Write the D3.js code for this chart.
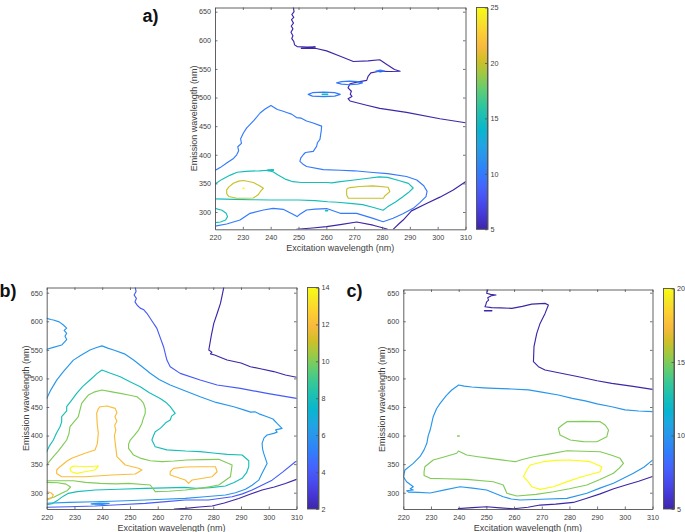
<!DOCTYPE html>
<html><head><meta charset="utf-8">
<script src="https://cdn.jsdelivr.net/npm/d3@7"></script>
<style>
body{margin:0;background:#fff}
svg{display:block}
text{font-family:"Liberation Sans",Arial,Helvetica,sans-serif}
</style>
</head><body>
<svg id="chart" width="685" height="532"></svg>
<script>
// ---------- axes data ----------
const xTicks = [220,230,240,250,260,270,280,290,300,310];
const yTicks = [300,350,400,450,500,550,600,650];
const exLimits = [220,310];
const emLimitsA = [269.8,657.3];
const emLimitsB = [271.5,659.1];
const emLimitsC = [271.5,655.6];
const cbDomA = [5,25], cbTicksA = [5,10,15,20,25];
const cbDomB = [2,14], cbTicksB = [2,4,6,8,10,12,14];
const cbDomC = [5,20], cbTicksC = [5,10,15,20];
const xLabel = "Excitation wavelength (nm)";
const yLabel = "Emission wavelength (nm)";

// parula colormap stops (MATLAB)
const parulaIdx = [0,4,8,12,16,20,24,28,32,36,40,44,48,52,56,60,63];
const parulaRGB = [
 [0.2422,0.1504,0.6603],[0.2706,0.2147,0.8364],[0.2813,0.3006,0.9414],[0.2699,0.3892,0.9906],
 [0.1963,0.4847,0.9892],[0.1687,0.5703,0.9359],[0.1248,0.6459,0.8883],[0.0297,0.7082,0.8163],
 [0.0964,0.7500,0.7120],[0.2161,0.7843,0.5923],[0.3909,0.8029,0.4354],[0.6174,0.7876,0.2612],
 [0.8203,0.7498,0.1535],[0.9728,0.7298,0.2394],[0.9892,0.8136,0.1885],[0.9597,0.9135,0.1423],
 [0.9769,0.9839,0.0805]];

// ---------- panel a contours [excitation, emission] ----------
const a5_1 = [[248.1,659],[248.4,650],[247.6,645],[248.3,640],[247.5,636],[248.2,630],[247.4,625],[248.0,620],[247.3,614],[248.0,608],[247.6,603],[248.3,598],[248.6,592],[249.5,589],[253,588],[256,588.5],[251,586],[256,586],[260.1,581.5],[265,572],[269.7,563],[275,564],[279.2,566],[282,557],[284.5,549],[286.5,546],[283,545.5],[279,546],[276,543],[275,537],[274.5,530],[271,527],[268.5,524],[267.8,517],[269,511],[268.6,506],[269.2,502],[267.8,498],[268.5,494],[274.5,486.5],[279.2,481],[288.8,474],[300.8,463],[310,456]];
const a5_2 = [[284,269.8],[286,279],[287.6,286],[290.6,302],[296,315],[300.8,326],[305.6,338.5],[310,353]];
const a5_3 = [[249.3,269.8],[255,272],[260.1,274.5],[265,278],[270.9,282.5],[276.8,277],[280.5,272],[282,269.8]];
const a10_1 = [[220,372.6],[222,378],[224.2,385.5],[226.5,393],[227.8,400],[228.5,407],[228.2,414],[229.5,420],[229.2,428],[230.2,438],[231.4,447],[234,460],[236.2,473],[238,480],[240.1,486],[242.4,479],[244.5,476],[246,473.5],[247.5,471],[249.3,465],[251,464],[252.9,459],[255,456],[258.3,450],[258.2,443],[257.7,427],[256.8,421],[256.5,414.7],[255.3,406],[252.5,404],[251.7,400],[250.8,394],[250.5,388.5],[251.5,384],[252.9,379.6],[258.9,374],[265,373],[270,372],[276.8,369],[282,367],[288.8,362],[292.5,356],[295,346],[296.2,336],[295.8,327],[293.5,316],[291.2,306.4],[287.5,297],[284,289],[280.4,283],[276.8,288.9],[270.9,297.7],[265,297.7],[260.1,306],[256,305],[252.9,303.5],[250.5,296],[249.5,292],[248,296],[244.5,304.7],[240.9,306.4],[237.4,303.5],[232.6,297.7],[229,286],[224.2,279],[220,275.4]];
const a10_e1 = [[253.5,505.5],[255,508.5],[259,509.5],[263,508.5],[265,505.5],[263,502.5],[259,501.5],[255,502.5],[253.5,505.5]];
const a10_e2 = [[263.7,525.6],[265.5,527.8],[268.4,528.8],[271.3,527.8],[273,525.6],[271.3,523.4],[268.4,522.4],[265.5,523.4],[263.7,525.6]];
const a10_e3 = [[277.8,546.3],[279.4,547.8],[281,546.3],[279.4,544.8],[277.8,546.3]];
const a15_1 = [[220,349],[222.5,357],[225.5,364.5],[228,369.5],[231,371],[236,372],[239,373],[241,370],[242.5,365],[245.5,357],[248,353],[251,351.5],[256,351.5],[260,351.5],[262,351],[265,353],[270,356],[275,359],[279,361.5],[282,360.5],[286,355],[289.5,350],[291.2,342],[289.5,334],[287.6,327],[285,318],[282,309],[280.4,303],[277,308],[273,313],[268.5,315],[264,317],[260.5,318],[256,320],[250,321],[245,321],[240,321],[233,321.5],[227,322],[220,323]];
const a15_2 = [[220,306.5],[222.5,303],[224,298],[224.5,292],[223.8,286],[222,282.5],[220,281.5]];
const a15_d1 = [[259.7,302],[260.5,302],[260.5,302.8],[259.7,302.8],[259.7,302]];
const a15_d2 = [[258.5,505],[260.5,505],[260.5,506],[258.5,506],[258.5,505]];
const a15_d3 = [[239,372],[241,372.8],[241,374],[239,373.5],[239,372]];
const a20_1 = [[224.2,338.6],[225,344],[226.6,350.3],[228.5,354],[230.2,355],[233.8,351.5],[236,346],[237.4,341.6],[236.2,335],[235.5,330],[233.8,324.5],[230,324],[227.8,324],[225,327],[224.2,332],[224.2,338.6]];
const a20_2 = [[267.3,338.6],[267.5,341],[268.5,342.7],[272,344.5],[276.8,345.6],[282.2,343.3],[282.8,335.7],[281,328],[280.5,324],[276.8,324],[272,324],[267.9,324],[267.3,329.9],[267.3,335],[267.3,338.6]];
const a25_d = [[230,341.3],[230.5,341.3],[230.5,342],[230,342],[230,341.3]];

// ---------- panel b contours ----------
const b2_1 = [[283.8,659.5],[283.2,645],[282.6,631.3],[281.5,615],[280.2,596.3],[279.3,575],[278.4,549.7],[279.5,546],[279,543],[280.5,541],[282.5,537],[285,532.2],[290,527],[293.4,520.5],[297,517],[301.8,512],[306,506],[310,502]];
const b2_2 = [[266,271.5],[270,272.7],[275,275],[279.6,276.7],[284,282],[289.2,290],[293,297],[297.6,304.7],[302,310],[306,316],[310,323.3]];
const b4_1 = [[251.9,659.5],[252.2,652],[251.5,646],[252.3,640],[251.8,634],[252.6,628],[253.7,623],[255,620],[256.1,614],[258,600],[259.7,587.6],[261,570],[262.1,555.5],[263.3,532.2],[264.5,520.5],[268.1,508.8],[275.3,497.2],[281.4,488.4],[289.8,482.6],[299.4,473.8],[310,465.1]];
const b4_2 = [[220,274.5],[228,275.5],[237.4,276.7],[246,279],[255.5,281.4],[262,284],[269.9,287.2],[278.3,287.2],[286.8,293],[290.5,298],[294,304.7],[297.5,313],[301.2,322],[305,336],[309.6,354.3],[310,355]];
const b6_1 = [[220,605],[221.5,603],[222.4,602.2],[224.5,599],[226,593.4],[227.2,588],[226.3,584],[227.2,579],[226.6,574],[227.2,568],[225.4,558.4],[222.4,554.3],[220,551]];
const b6_2 = [[220,465],[221.5,480],[223.6,497],[226,512],[229.6,532],[232.5,541],[235.6,549.7],[238,554],[239.9,557],[242,553],[244.1,549.7],[248,543],[251.3,532.2],[254.5,520],[257.3,509],[260.5,498],[264.5,488.4],[270,478],[275.3,468],[281,458],[287.4,450.5],[291,445],[293.5,441],[295,441.5],[296.5,438],[299.4,433],[301.5,429],[303,421.3],[304.8,412.6],[302.5,410],[303,406],[301.8,403.8],[299.4,401],[298.3,396],[297.6,386.3],[297.8,376],[298.2,368.8],[299.4,351.3],[298.8,345.5],[297.5,333],[296.4,322],[294,313],[291.6,306],[288,300],[284.4,296],[277,293],[269.9,290],[262,288.5],[255.5,287.2],[246,285.5],[237.4,284.2],[228,283],[220,281.5]];
const b6_3 = [[236,280.5],[239,281.8],[242.5,281.3],[240,279.6],[236.5,279.8],[236,280.5]];
const b8_1 = [[220,371.7],[221,382],[222.4,392.2],[223.5,404],[224.8,415.5],[225.4,424],[225.4,433],[227.2,443],[227.2,450.5],[229,462],[230.8,473.8],[233,486],[235.6,497.2],[238,508],[239.9,514.7],[243,509],[246.5,503],[250,494],[253.7,485.5],[257,475],[260.9,465],[263,458],[264.5,450.5],[266.3,439],[265,434],[264.5,427.2],[263,423],[262.1,418.4],[261,413],[259.1,406.7],[258.5,400],[257.9,392.2],[259.1,380.5],[263.3,375],[270,373],[275.3,372],[280,369.5],[285,367],[290.4,366],[292.8,356],[292.8,345.5],[292,335],[290.4,325.2],[287.5,318],[284.4,311.7],[279,309],[273.6,307.6],[269.9,309.4],[263,308.5],[255.5,307.6],[246,306],[237.4,304.7],[231,302],[227.8,298.9],[226,294],[224,287],[222,281],[220,279]];
const b10_1 = [[220,348],[221,355],[222.4,363],[224,372],[225.4,380.5],[227.2,392.2],[228,403],[228.4,415.5],[230,425],[231.4,433],[232,445],[232.6,456.3],[234,465],[235,470.9],[237,476],[239.9,479.7],[243,477],[246.5,473.8],[249.5,471],[252.5,468],[254,462],[254.9,456.3],[255.5,447],[255.5,438.8],[254.8,430],[254.3,421.3],[253.1,409.7],[251.5,400],[250.1,392.2],[249.5,385],[249.5,377.6],[251.3,365.9],[254,360],[257.3,356],[261.5,354.3],[266,355.5],[270.5,357.2],[276,358],[282,358.4],[286.8,348.5],[286.2,328],[282,313.5],[276,308],[269.9,304.7],[264,302.5],[259.1,301.8],[258.5,306],[257.3,313.5],[249.5,316.4],[245,315.5],[239.3,316.3],[234,318],[229.6,321],[222.4,321],[220,321]];
const b10_2 = [[220,318],[224,317.5],[227,315],[228.6,310],[227.5,304],[225,298],[222.5,292],[220,289]];
const b12_1 = [[223.6,339.7],[224.8,345.5],[227.2,355],[229,360.2],[233.8,369],[237.4,374.7],[238.2,385],[238.6,404],[238.2,420],[238,439],[238.6,447],[239.3,450.5],[241.7,451.7],[244.7,447.6],[245.3,440],[244.6,433],[245.3,425],[244.5,418],[244.9,409.7],[244.4,400],[244.7,386.4],[245,375],[245.3,363],[248.3,348.5],[253.1,342.7],[254.3,339.7],[251.9,332.7],[243.5,331],[233.8,328],[225.4,328],[223.6,333.8],[223.6,339.7]];
const b12_2 = [[264.5,336.7],[265.7,342.7],[270,345],[275,345.5],[280.8,345.5],[281.4,336.7],[279.6,328],[272.4,322.2],[271.1,316.4],[269.9,322.2],[264.5,331],[264.5,336.7]];
const b12_3 = [[220,302],[221.5,300],[222.4,296],[221.8,291],[220,287]];
const b14_1 = [[228.4,342.7],[229.6,346.7],[233.8,345.5],[238.6,346.7],[237.4,339.7],[233.8,336.7],[230.8,333.9],[228.8,336.7],[228.4,342.7]];

// ---------- panel c contours ----------
const c5_1 = [[250.7,659],[250.3,652],[250.1,649],[251.5,647],[253.5,646],[251.9,645],[250.5,641],[250.8,637],[250.1,634],[249.8,629],[249.5,625.5],[251.9,624],[255,623.5],[259.2,622.6],[263,626],[266.4,630],[271.2,631.3],[272.4,628.4],[271.2,613.8],[269.4,596.3],[268.2,578.8],[267.2,555.5],[267,529.3],[268.8,520.5],[271.2,514.7],[277,509],[283.3,503],[290,496],[295.3,491.3],[303,486],[310,480.8]];
const c5_2 = [[239.9,272.2],[245,274],[250.1,275.5],[255,273.5],[259.7,272],[265,274.5],[269.4,278.4],[275,280],[281.4,283],[286,290],[291.1,298],[296,307],[300.7,314],[305,320],[310,328.5]];
const c5_3 = [[249.3,618.2],[252,618.2],[252,618.8],[249.3,618.8],[249.3,618.2]];
const c10_1 = [[310,441.8],[305,443],[300.1,445],[295.3,450.5],[290,455.5],[285.7,460.7],[281,465],[276,470.9],[270,476],[265.2,480],[259,481.5],[253.1,482.5],[249,483.5],[244.7,485],[242,486.5],[240,488.4],[237.5,479.7],[235.5,470],[233.3,456.4],[232,447],[230.8,433],[230.3,422],[229.7,409.7],[229,400],[228.5,386.4],[227.5,375],[226,363],[223.6,351.4],[220.6,339.7],[220,328],[221.2,319.2],[223.6,310.5],[222.5,307],[223.6,304.7],[221.2,303.5],[222,301],[225.5,300.5],[229.7,299.5],[235,305],[240.5,310.5],[245,308],[250.1,304.7],[253,299],[256.1,293],[259,289],[262.2,287.2],[270,288.5],[279.1,290.1],[286.3,299],[291,308],[295.9,316.5],[303.1,334],[307,345],[310,357]];
const c15_1 = [[276,412.7],[277.5,419],[279.1,424.3],[285,424.8],[291.1,424.3],[293,418],[294.1,409.7],[293.5,398],[289.9,389.2],[285,389.5],[280.3,392.2],[276.6,401],[276,412.7]];
const c15_2 = [[227.8,345.5],[230.8,357.2],[235,363],[239.3,369],[239.9,373],[242.9,366],[247,363],[251.3,360.2],[256,357],[260.4,354.3],[263,358],[267,363],[273,368],[279.1,373.5],[285,372.5],[291.1,371.7],[295,366],[298.3,360.2],[299.5,351.4],[298,343],[295.9,334],[291,323],[286.3,313.5],[280,307],[274.2,301.7],[268,297],[261,294.2],[257.4,299],[256.1,313.5],[252.5,319.2],[242.9,323.4],[235,324.5],[229.7,325.2],[227.5,330],[227.5,336.7],[227.8,345.5]];
const c15_3 = [[239.6,399],[240.2,399],[240.2,399.6],[239.6,399.6],[239.6,399]];
const c20_1 = [[264.6,339.7],[265.8,348.5],[270.6,354.3],[275,356.5],[280.3,357.2],[287.5,354.3],[291.7,345.5],[291.1,336.7],[283.9,327],[279,319],[274.2,310.5],[269.4,305.9],[266.4,310.5],[264.6,322.2],[263.4,328],[264,334],[264.6,339.7]];

// ---------- tables built from the arrays ----------
const contoursA = [
 {level:5,pts:a5_1},{level:5,pts:a5_2},{level:5,pts:a5_3},
 {level:10,pts:a10_1},{level:10,pts:a10_e1},{level:10,pts:a10_e2},{level:10,pts:a10_e3},
 {level:15,pts:a15_1},{level:15,pts:a15_2},{level:15,pts:a15_d1},{level:15,pts:a15_d2},{level:15,pts:a15_d3},
 {level:20,pts:a20_1},{level:20,pts:a20_2},{level:25,pts:a25_d}];
const contoursB = [
 {level:2,pts:b2_1},{level:2,pts:b2_2},{level:4,pts:b4_1},{level:4,pts:b4_2},
 {level:6,pts:b6_1},{level:6,pts:b6_2},{level:6,pts:b6_3},{level:8,pts:b8_1},
 {level:10,pts:b10_1},{level:10,pts:b10_2},{level:12,pts:b12_1},{level:12,pts:b12_2},{level:12,pts:b12_3},
 {level:14,pts:b14_1}];
const contoursC = [
 {level:5,pts:c5_1},{level:5,pts:c5_2},{level:5,pts:c5_3},{level:10,pts:c10_1},
 {level:15,pts:c15_1},{level:15,pts:c15_2},{level:15,pts:c15_3},{level:20,pts:c20_1}];

// ---------- drawing ----------
const svg = d3.select('#chart');
const defs = svg.append('defs');
const parulaPos = parulaIdx.map(i => i/63);
const parulaCols = parulaRGB.map(c => d3.rgb(c[0]*255, c[1]*255, c[2]*255).formatHex());
const parula = d3.scaleLinear().domain(parulaPos).range(parulaCols).interpolate(d3.interpolateRgb).clamp(true);
const grad = defs.append('linearGradient').attr('id','parulaGrad')
  .attr('x1',0).attr('y1',1).attr('x2',0).attr('y2',0);
parulaPos.forEach((p,i)=>grad.append('stop').attr('offset',p).attr('stop-color',parulaCols[i]));

const AX = '#505050', TXT = '#404040';

function styleAxis(sel){
  sel.attr('font-family','"Liberation Sans",Arial,sans-serif').attr('font-size',7.2);
  sel.selectAll('.domain').attr('stroke',AX).attr('stroke-width',0.9);
  sel.selectAll('.tick line').attr('stroke',AX).attr('stroke-width',0.8);
  sel.selectAll('.tick text').attr('fill',TXT);
}

function panel(cfg){
  const g = svg.append('g');
  const x = d3.scaleLinear().domain(exLimits).range(cfg.px);
  const y = d3.scaleLinear().domain(cfg.yDom).range([cfg.py[1], cfg.py[0]]);
  const color = v => parula((v - cfg.cbDom[0])/(cfg.cbDom[1]-cfg.cbDom[0]));
  const cid = 'clip'+cfg.id;
  defs.append('clipPath').attr('id',cid).append('rect')
    .attr('x',cfg.px[0]).attr('y',cfg.py[0])
    .attr('width',cfg.px[1]-cfg.px[0]).attr('height',cfg.py[1]-cfg.py[0]);
  g.append('rect').attr('x',cfg.px[0]).attr('y',cfg.py[0])
    .attr('width',cfg.px[1]-cfg.px[0]).attr('height',cfg.py[1]-cfg.py[0]).attr('fill','#fff');
  const line = d3.line().x(d=>x(d[0])).y(d=>y(d[1]));
  g.append('g').attr('clip-path',`url(#${cid})`)
    .selectAll('path').data(cfg.contours).join('path')
    .attr('d',d=>line(d.pts)).attr('fill','none')
    .attr('stroke',d=>color(d.level)).attr('stroke-width',1.15)
    .attr('stroke-linejoin','round').attr('stroke-linecap','round');
  // axes (ticks inside, box on)
  g.append('g').attr('transform',`translate(0,${cfg.py[1]})`)
    .call(d3.axisBottom(x).tickValues(xTicks).tickSize(-2.5).tickSizeOuter(0).tickPadding(6)).call(styleAxis);
  g.append('g').attr('transform',`translate(0,${cfg.py[0]})`)
    .call(d3.axisTop(x).tickValues(xTicks).tickSize(-2.5).tickSizeOuter(0).tickFormat('')).call(styleAxis);
  g.append('g').attr('transform',`translate(${cfg.px[0]},0)`)
    .call(d3.axisLeft(y).tickValues(yTicks).tickSize(-2.5).tickSizeOuter(0).tickPadding(4)).call(styleAxis);
  g.append('g').attr('transform',`translate(${cfg.px[1]},0)`)
    .call(d3.axisRight(y).tickValues(yTicks).tickSize(-2.5).tickSizeOuter(0).tickFormat('')).call(styleAxis);
  // axis labels
  g.append('text').attr('x',(cfg.px[0]+cfg.px[1])/2).attr('y',cfg.py[1]+21.5)
    .attr('text-anchor','middle').attr('font-size',9).attr('fill',TXT).text(xLabel);
  const ly = (cfg.py[0]+cfg.py[1])/2, lx = cfg.px[0]-21;
  g.append('text').attr('transform',`translate(${lx},${ly}) rotate(-90)`)
    .attr('text-anchor','middle').attr('dy','0.35em').attr('font-size',9).attr('fill',TXT).text(yLabel);
  // colorbar
  g.append('rect').attr('x',cfg.cb[0]).attr('y',cfg.cby[0])
    .attr('width',cfg.cb[1]-cfg.cb[0]).attr('height',cfg.cby[1]-cfg.cby[0])
    .attr('fill','url(#parulaGrad)').attr('stroke',AX).attr('stroke-width',0.9);
  const cs = d3.scaleLinear().domain(cfg.cbDom).range([cfg.cby[1], cfg.cby[0]]);
  g.append('g').attr('transform',`translate(${cfg.cb[1]},0)`)
    .call(d3.axisRight(cs).tickValues(cfg.cbTicks).tickSize(-2.5).tickSizeOuter(0).tickPadding(3)).call(styleAxis);
  // panel label
  g.append('text').attr('x',cfg.lab[0]).attr('y',cfg.lab[1]).attr('font-size',18)
    .attr('font-weight','bold').attr('fill','#111').text(cfg.label);
}

panel({id:'a', px:[215,465.5], py:[7.5,229.3], yDom:emLimitsA, cb:[476.5,487.5], cby:[7.5,229.3],
  cbDom:cbDomA, cbTicks:cbTicksA, contours:contoursA, label:'a)', lab:[142.5,21.8]});
panel({id:'b', px:[46.7,296.5], py:[287.5,509], yDom:emLimitsB, cb:[307.5,318.5], cby:[287.5,509],
  cbDom:cbDomB, cbTicks:cbTicksB, contours:contoursB, label:'b)', lab:[-0.5,296.5]});
panel({id:'c', px:[403.3,652.5], py:[289.5,509], yDom:emLimitsC, cb:[663.5,674], cby:[288.5,509],
  cbDom:cbDomC, cbTicks:cbTicksC, contours:contoursC, label:'c)', lab:[346.5,296.5]});
</script>
</body></html>
